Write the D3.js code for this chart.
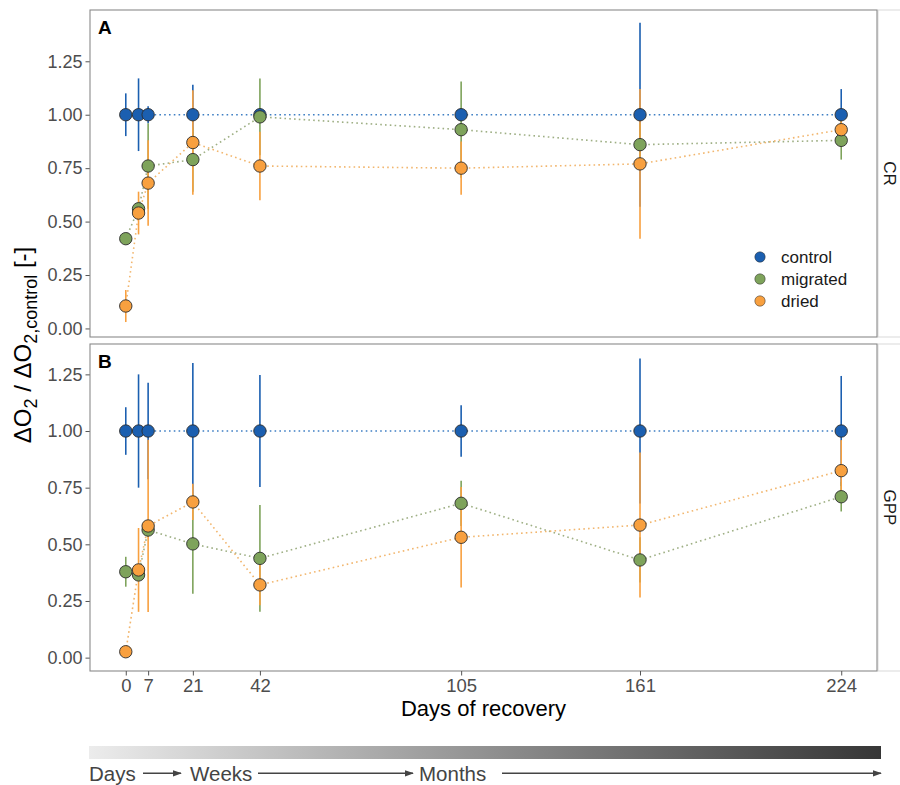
<!DOCTYPE html>
<html>
<head>
<meta charset="utf-8">
<script src="https://cdn.jsdelivr.net/npm/d3@7"></script>
<style>
  body { margin: 0; background: #fff; }
  text { font-family: "Liberation Sans", Arial, sans-serif; }
</style>
</head>
<body>
<div id="chart"></div>
<script>
// days of recovery (sampling points)
const days = [0, 4, 7, 21, 42, 105, 161, 224];
const xTicks = [0, 7, 21, 42, 105, 161, 224];
const yTicks = [0, 0.25, 0.5, 0.75, 1.0, 1.25];
const groups = ["control", "migrated", "dried"];
const colors = { control: "#1b5fb0", migrated: "#7ea35b", dried: "#f8a03f" };
const lineColors = { control: "#3f7fc4", migrated: "#9eaf84", dried: "#f2b66e" };

// CR panel
const crControl = [1, 1, 1, 1, 1, 1, 1, 1];
const crControlErr = [0.10, 0.17, 0.04, 0.14, 0.03, 0.03, 0.43, 0.12];
const crMigrated = [0.42, 0.56, 0.76, 0.79, 0.99, 0.93, 0.86, 0.88];
const crMigratedErr = [0.02, 0.03, 0.20, 0.15, 0.18, 0.225, 0.10, 0.09];
const crDried = [0.105, 0.54, 0.68, 0.87, 0.76, 0.75, 0.77, 0.93];
const crDriedErr = [0.075, 0.10, 0.20, 0.245, 0.16, 0.125, 0.35, 0.04];

// GPP panel
const gppControl = [1, 1, 1, 1, 1, 1, 1, 1];
const gppControlErr = [0.105, 0.25, 0.213, 0.30, 0.247, 0.114, 0.32, 0.243];
const gppMigrated = [0.379, 0.365, 0.563, 0.502, 0.438, 0.681, 0.431, 0.710];
const gppMigratedErr = [0.066, 0.03, 0.03, 0.22, 0.235, 0.10, 0.10, 0.065];
const gppDried = [0.026, 0.387, 0.581, 0.687, 0.321, 0.531, 0.585, 0.825];
const gppDriedErr = [0.01, 0.185, 0.38, 0.08, 0.09, 0.222, 0.32, 0.135];

const panels = [
  { label: "A", strip: "CR", top: 10, bottom: 337, domain: [-0.04, 1.49],
    series: { control: [crControl, crControlErr], migrated: [crMigrated, crMigratedErr], dried: [crDried, crDriedErr] } },
  { label: "B", strip: "GPP", top: 344, bottom: 671, domain: [-0.059, 1.384],
    series: { control: [gppControl, gppControlErr], migrated: [gppMigrated, gppMigratedErr], dried: [gppDried, gppDriedErr] } }
];

const width = 900, height = 785;
const left = 90, right = 877;

const svg = d3.select("#chart").append("svg")
  .attr("width", width).attr("height", height);

const x = d3.scaleLinear().domain([-11.2, 235.2]).range([left, right]);

panels.forEach((p, pi) => {
  const y = d3.scaleLinear().domain(p.domain).range([p.bottom, p.top]);
  const g = svg.append("g");

  // strip on the right
  g.append("rect")
    .attr("x", right + 1).attr("y", p.top)
    .attr("width", 30).attr("height", p.bottom - p.top)
    .attr("fill", "#fff").attr("stroke", "#d9d9d9");
  g.append("text")
    .attr("transform", `translate(${right + 13},${(p.top + p.bottom) / 2}) rotate(90)`)
    .attr("text-anchor", "middle").attr("dy", "0.35em")
    .attr("font-size", 17).attr("fill", "#1a1a1a")
    .text(p.strip);

  // y axis
  const yAxis = g.append("g")
    .attr("transform", `translate(${left},0)`)
    .call(d3.axisLeft(y).tickValues(yTicks).tickFormat(d3.format(".2f")).tickSize(4.5).tickPadding(3));
  yAxis.select(".domain").remove();
  yAxis.selectAll(".tick line").attr("stroke", "#555");
  yAxis.selectAll(".tick text").attr("font-size", 18).attr("fill", "#4d4d4d")
    .style("font-family", "Liberation Sans, Arial, sans-serif");

  // dotted lines
  groups.forEach(k => {
    const vals = p.series[k][0];
    g.append("path")
      .datum(days.map((d, i) => [d, vals[i]]))
      .attr("fill", "none")
      .attr("stroke", lineColors[k])
      .attr("stroke-width", 1.6)
      .attr("stroke-dasharray", "1.6,3.2")
      .attr("d", d3.line().x(d => x(d[0])).y(d => y(d[1])));
  });

  // error bars
  groups.forEach(k => {
    const [vals, errs] = p.series[k];
    g.append("g").selectAll("line")
      .data(days)
      .join("line")
      .attr("x1", d => x(d)).attr("x2", d => x(d))
      .attr("y1", (d, i) => y(vals[i] - errs[i]))
      .attr("y2", (d, i) => y(vals[i] + errs[i]))
      .attr("stroke", colors[k])
      .attr("stroke-width", 1.6);
  });

  // points
  groups.forEach(k => {
    const vals = p.series[k][0];
    g.append("g").selectAll("circle")
      .data(days)
      .join("circle")
      .attr("cx", d => x(d))
      .attr("cy", (d, i) => y(vals[i]))
      .attr("r", 6.2)
      .attr("fill", colors[k])
      .attr("stroke", "#2b2b2b")
      .attr("stroke-width", 0.9);
  });

  // panel border
  g.append("rect")
    .attr("x", left).attr("y", p.top)
    .attr("width", right - left).attr("height", p.bottom - p.top)
    .attr("fill", "none").attr("stroke", "#8a8a8a").attr("stroke-width", 1.1);

  // panel letter
  g.append("text")
    .attr("x", 98).attr("y", p.top + 23.5)
    .attr("font-size", 19).attr("font-weight", "bold").attr("fill", "#000")
    .text(p.label);

  // x axis only under bottom panel
  if (pi === panels.length - 1) {
    const xAxis = g.append("g")
      .attr("transform", `translate(0,${p.bottom})`)
      .call(d3.axisBottom(x).tickValues(xTicks).tickSize(4.5).tickPadding(3));
    xAxis.select(".domain").remove();
    xAxis.selectAll(".tick line").attr("stroke", "#555");
    xAxis.selectAll(".tick text").attr("font-size", 18.5).attr("fill", "#4d4d4d")
      .style("font-family", "Liberation Sans, Arial, sans-serif");
  }

  // legend in top panel
  if (pi === 0) {
    const leg = g.append("g").attr("transform", "translate(760,257)");
    groups.forEach((k, i) => {
      leg.append("circle").attr("cx", 0).attr("cy", i * 22).attr("r", 5.2)
        .attr("fill", colors[k]).attr("stroke", "#2b2b2b").attr("stroke-width", 0.5);
      leg.append("text").attr("x", 21).attr("y", i * 22).attr("dy", "0.35em")
        .attr("font-size", 17).attr("fill", "#1a1a1a").text(k);
    });
  }
});

// axis titles
svg.append("text")
  .attr("x", (left + right) / 2).attr("y", 716)
  .attr("text-anchor", "middle").attr("font-size", 22).attr("fill", "#000")
  .text("Days of recovery");

const yt = svg.append("text")
  .attr("transform", "translate(31,345) rotate(-90)")
  .attr("text-anchor", "middle").attr("font-size", 24).attr("fill", "#000");
yt.append("tspan").text("ΔO");
yt.append("tspan").attr("font-size", 18).attr("dy", 6).text("2");
yt.append("tspan").attr("dy", -6).text(" / ΔO");
yt.append("tspan").attr("font-size", 18).attr("dy", 6).text("2,control");
yt.append("tspan").attr("dy", -6).text(" [-]");

// time gradient bar
const defs = svg.append("defs");
const grad = defs.append("linearGradient").attr("id", "timegrad");
grad.append("stop").attr("offset", "0%").attr("stop-color", "#ececec");
grad.append("stop").attr("offset", "100%").attr("stop-color", "#363636");
svg.append("rect")
  .attr("x", 89).attr("y", 746).attr("width", 792).attr("height", 13)
  .attr("fill", "url(#timegrad)");

defs.append("marker").attr("id", "arr")
  .attr("viewBox", "0 0 10 10").attr("refX", 9).attr("refY", 5)
  .attr("markerWidth", 6).attr("markerHeight", 6).attr("orient", "auto")
  .append("path").attr("d", "M0,1.5 L10,5 L0,8.5 Z").attr("fill", "#444");

const timeLabels = [
  { text: "Days", x: 89 },
  { text: "Weeks", x: 190 },
  { text: "Months", x: 419 }
];
const timeArrows = [[143, 181], [258, 413], [502, 881]];
timeLabels.forEach(t => {
  svg.append("text").attr("x", t.x).attr("y", 780.5)
    .attr("font-size", 20.5).attr("fill", "#444").text(t.text);
});
timeArrows.forEach(a => {
  svg.append("line").attr("x1", a[0]).attr("x2", a[1]).attr("y1", 773.3).attr("y2", 773.3)
    .attr("stroke", "#444").attr("stroke-width", 1.5).attr("marker-end", "url(#arr)");
});
</script>
</body>
</html>
